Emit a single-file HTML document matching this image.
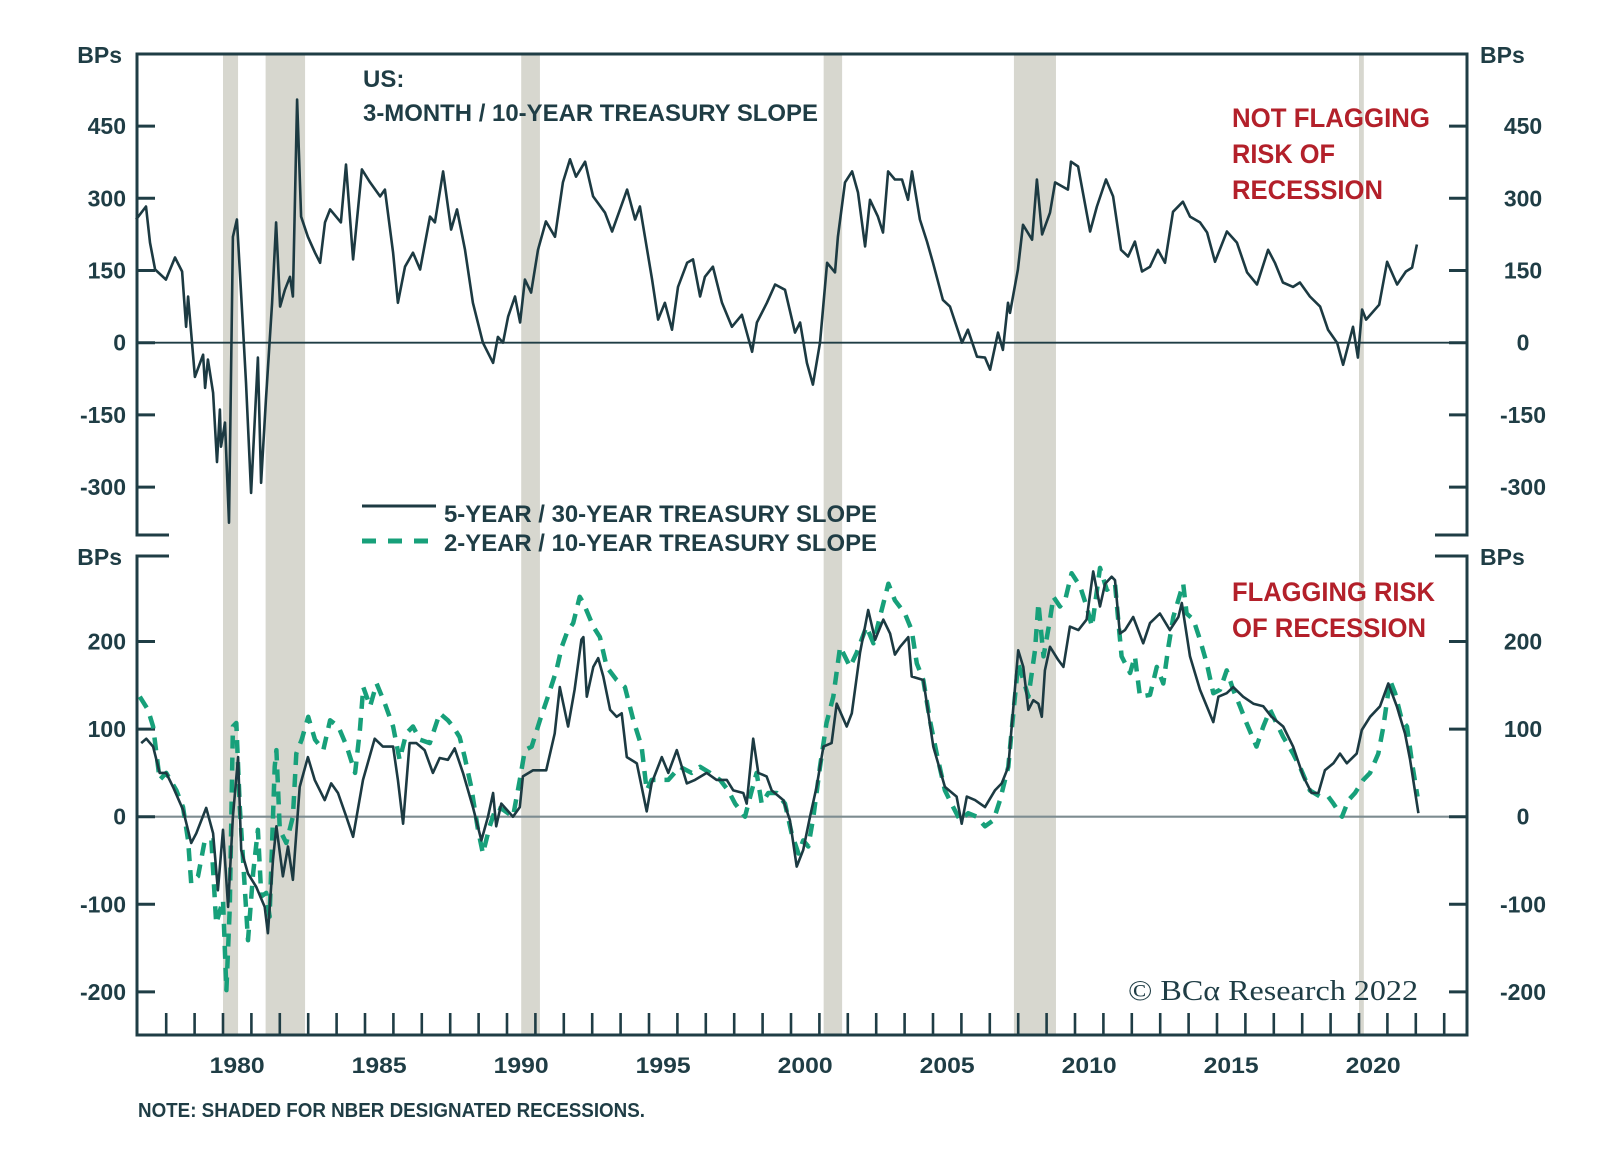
<!DOCTYPE html>
<html>
<head>
<meta charset="utf-8">
<style>
  html,body{margin:0;padding:0;background:#ffffff;}
  svg{display:block;}
  text{font-family:"Liberation Sans",sans-serif;}
</style>
</head>
<body>
<svg id="chart" xmlns="http://www.w3.org/2000/svg" width="1600" height="1154" viewBox="0 0 1600 1154">
  <rect x="0" y="0" width="1600" height="1154" fill="#ffffff"/>
  <g id="recessions"></g>
  <g id="frames"></g>
  <g id="series"></g>
  <g id="labels"></g>

  <text x="363" y="87" font-size="24" font-weight="bold" fill="#1f3d45">US:</text>
  <text x="363" y="121" font-size="24" font-weight="bold" fill="#1f3d45" textLength="455" lengthAdjust="spacingAndGlyphs">3-MONTH / 10-YEAR TREASURY SLOPE</text>

  <text x="1232" y="127" font-size="27" font-weight="bold" fill="#b3202a" textLength="198" lengthAdjust="spacingAndGlyphs">NOT FLAGGING</text>
  <text x="1232" y="163" font-size="27" font-weight="bold" fill="#b3202a" textLength="103" lengthAdjust="spacingAndGlyphs">RISK OF</text>
  <text x="1232" y="199" font-size="27" font-weight="bold" fill="#b3202a" textLength="151" lengthAdjust="spacingAndGlyphs">RECESSION</text>

  <text x="1232" y="601" font-size="27" font-weight="bold" fill="#b3202a" textLength="203" lengthAdjust="spacingAndGlyphs">FLAGGING RISK</text>
  <text x="1232" y="637" font-size="27" font-weight="bold" fill="#b3202a" textLength="194" lengthAdjust="spacingAndGlyphs">OF RECESSION</text>

  <g>
    <line x1="362" y1="506" x2="436" y2="506" stroke="#1c3a42" stroke-width="3"/>
    <text x="444" y="522" font-size="24" font-weight="bold" fill="#1f3d45" textLength="433" lengthAdjust="spacingAndGlyphs">5-YEAR / 30-YEAR TREASURY SLOPE</text>
    <line x1="362" y1="541" x2="436" y2="541" stroke="#17a07a" stroke-width="5" stroke-dasharray="14 12"/>
    <text x="444" y="551" font-size="24" font-weight="bold" fill="#1f3d45" textLength="433" lengthAdjust="spacingAndGlyphs">2-YEAR / 10-YEAR TREASURY SLOPE</text>
  </g>

  <text x="1128" y="1000" font-size="29" fill="#1f3d45" font-family="Liberation Serif, serif" style="font-family:'Liberation Serif',serif" textLength="290" lengthAdjust="spacingAndGlyphs">© BCα Research 2022</text>
  <text x="138" y="1117" font-size="20" font-weight="bold" fill="#1f3d45" textLength="507" lengthAdjust="spacingAndGlyphs">NOTE: SHADED FOR NBER DESIGNATED RECESSIONS.</text>
</svg>

<script>
// ---------- data ----------
const recessionStarts = [1980.0, 1981.5, 1990.5, 2001.15, 2007.85, 2020.0];
const recessionEnds   = [1980.53, 1982.89, 1991.16, 2001.8, 2009.33, 2020.17];

const topTicks = [450, 300, 150, 0, -150, -300];
const bottomTicks = [200, 100, 0, -100, -200];
const yearLabels = [1980, 1985, 1990, 1995, 2000, 2005, 2010, 2015, 2020];

const topDates = [1976.94,1977.29,1977.43,1977.61,1977.99,1978.31,1978.56,1978.70,1978.77,1979.01,1979.30,1979.37,1979.47,1979.65,1979.79,1979.89,1979.93,1980.07,1980.21,1980.35,1980.49,1980.63,1980.81,1980.99,1981.23,1981.34,1981.51,1981.73,1981.87,1982.01,1982.18,1982.36,1982.46,1982.61,1982.75,1982.99,1983.24,1983.42,1983.59,1983.77,1984.15,1984.33,1984.58,1984.89,1985.18,1985.53,1985.70,1985.99,1986.16,1986.41,1986.69,1986.94,1987.29,1987.46,1987.75,1988.03,1988.24,1988.52,1988.80,1989.15,1989.51,1989.68,1989.86,1990.04,1990.28,1990.46,1990.63,1990.85,1991.09,1991.37,1991.69,1991.97,1992.22,1992.43,1992.75,1993.03,1993.45,1993.70,1993.98,1994.23,1994.51,1994.68,1995.11,1995.32,1995.56,1995.81,1996.02,1996.34,1996.55,1996.80,1996.97,1997.25,1997.57,1997.92,1998.27,1998.63,1998.80,1999.15,1999.44,1999.79,2000.14,2000.32,2000.56,2000.77,2001.02,2001.27,2001.55,2001.65,2001.90,2002.15,2002.36,2002.61,2002.78,2003.06,2003.24,2003.42,2003.66,2003.91,2004.12,2004.26,2004.54,2004.79,2005.00,2005.35,2005.60,2006.02,2006.23,2006.55,2006.83,2007.01,2007.29,2007.46,2007.64,2007.71,2007.99,2008.17,2008.49,2008.66,2008.84,2009.12,2009.30,2009.75,2009.86,2010.11,2010.53,2010.77,2011.09,2011.34,2011.62,2011.87,2012.11,2012.36,2012.64,2012.92,2013.17,2013.45,2013.80,2014.05,2014.40,2014.65,2014.93,2015.35,2015.70,2016.06,2016.41,2016.80,2017.04,2017.32,2017.68,2017.92,2018.27,2018.63,2018.91,2019.23,2019.44,2019.79,2019.96,2020.11,2020.25,2020.71,2020.99,2021.34,2021.65,2021.87,2022.04];
const topValues = [256,283,208,152,131,177,148,33,96,-71,-25,-94,-35,-104,-248,-139,-216,-166,-374,220,256,110,-83,-312,-31,-291,-119,83,250,75,110,137,96,505,262,220,187,166,250,277,250,370,173,360,333,304,318,187,83,158,187,152,262,250,356,235,277,193,83,0,-42,12,0,54,96,42,131,104,193,252,220,333,381,345,376,304,270,231,277,318,256,283,131,48,83,27,116,166,173,96,137,158,83,33,58,-19,42,83,121,110,21,42,-42,-87,0,166,146,220,333,356,312,200,297,262,229,356,339,339,297,356,256,210,166,89,75,0,27,-29,-31,-56,21,-15,83,62,152,245,214,339,225,270,333,318,376,366,231,283,339,304,193,179,210,148,158,193,166,272,293,262,250,229,168,231,208,146,121,193,166,125,116,125,96,75,27,0,-46,33,-31,69,48,79,168,121,148,156,204];

const fiveThirtyDates = [1977.12,1977.30,1977.54,1977.77,1978.0,1978.24,1978.59,1978.88,1979.06,1979.41,1979.65,1979.82,1980.0,1980.18,1980.35,1980.53,1980.64,1980.88,1981.17,1981.47,1981.58,1981.76,1981.88,1982.11,1982.29,1982.46,1982.70,1982.99,1983.23,1983.58,1983.81,1984.05,1984.34,1984.58,1984.93,1985.34,1985.63,1985.99,1986.16,1986.34,1986.57,1986.81,1987.10,1987.39,1987.63,1987.92,1988.16,1988.45,1988.80,1989.10,1989.33,1989.51,1989.62,1989.80,1990.21,1990.45,1990.56,1990.92,1991.38,1991.68,1991.86,1992.15,1992.38,1992.62,1992.69,1992.81,1993.04,1993.21,1993.39,1993.63,1993.86,1994.04,1994.22,1994.57,1994.92,1995.09,1995.45,1995.68,1995.98,1996.33,1996.62,1997.03,1997.38,1997.74,1997.97,1998.32,1998.44,1998.67,1998.85,1999.14,1999.32,1999.73,1999.96,2000.20,2000.43,2000.67,2000.90,2001.14,2001.43,2001.61,2001.96,2002.14,2002.43,2002.72,2002.96,2003.25,2003.49,2003.66,2003.84,2004.13,2004.25,2004.66,2005.01,2005.42,2005.83,2006.01,2006.19,2006.48,2006.83,2007.18,2007.42,2007.65,2007.77,2008.00,2008.18,2008.36,2008.53,2008.71,2008.83,2008.94,2009.12,2009.41,2009.59,2009.82,2010.12,2010.41,2010.64,2010.88,2011.06,2011.29,2011.41,2011.58,2011.76,2012.05,2012.40,2012.64,2012.99,2013.34,2013.64,2013.76,2014.05,2014.40,2014.87,2015.05,2015.34,2015.57,2015.92,2016.28,2016.63,2016.92,2017.33,2017.68,2018.04,2018.33,2018.57,2018.80,2019.10,2019.33,2019.57,2019.92,2020.10,2020.39,2020.74,2021.03,2021.33,2021.62,2021.80,2022.09];
const fiveThirtyValues = [84,89,80,50,50,34,8,-30,-19,10,-19,-84,-15,-103,0,68,-38,-65,-80,-103,-133,-49,-11,-68,-34,-72,34,68,42,19,38,27,0,-23,42,89,80,80,42,-8,84,84,76,50,67,65,78,50,11,-27,0,27,-11,15,0,11,46,53,53,95,148,103,145,202,205,137,171,181,160,122,114,118,68,61,6,38,68,50,76,38,42,50,42,42,30,27,15,89,50,46,30,19,-4,-57,-38,0,34,80,84,129,103,118,187,236,202,225,209,185,194,205,160,156,80,34,23,-8,23,19,11,30,38,57,103,190,171,122,133,129,114,167,194,179,171,217,213,225,280,240,266,274,270,209,213,228,198,221,232,213,228,244,183,145,108,137,141,148,137,129,126,114,103,80,46,27,27,53,61,72,61,72,99,114,126,152,126,95,65,4];

const twoTenDates = [1977.07,1977.36,1977.54,1977.77,1978.0,1978.36,1978.59,1978.77,1978.88,1979.12,1979.36,1979.59,1979.76,1980.0,1980.12,1980.24,1980.35,1980.47,1980.59,1980.88,1981.06,1981.23,1981.35,1981.52,1981.64,1981.82,1981.88,1982.0,1982.23,1982.46,1982.58,1982.77,1983.00,1983.24,1983.53,1983.77,1984.06,1984.36,1984.65,1984.82,1984.94,1985.18,1985.41,1985.70,1985.99,1986.22,1986.45,1986.69,1986.93,1987.28,1987.63,1987.92,1988.10,1988.33,1988.51,1988.74,1988.98,1989.15,1989.39,1989.62,1989.86,1990.21,1990.45,1990.63,1990.87,1991.16,1991.44,1991.74,1991.93,1992.10,1992.33,1992.56,1992.69,1993.04,1993.27,1993.51,1993.86,1994.15,1994.45,1994.74,1994.92,1995.09,1995.45,1995.68,1996.09,1996.50,1996.80,1997.15,1997.50,1997.79,1998.03,1998.38,1998.62,1998.79,1998.97,1999.20,1999.50,1999.79,2000.02,2000.26,2000.43,2000.61,2000.79,2001.02,2001.25,2001.49,2001.73,2002.08,2002.31,2002.66,2002.90,2003.13,2003.43,2003.66,2004.01,2004.25,2004.43,2004.66,2004.89,2005.13,2005.42,2005.71,2005.95,2006.24,2006.54,2006.83,2007.13,2007.36,2007.65,2007.77,2008.00,2008.18,2008.36,2008.59,2008.71,2008.89,2009.12,2009.24,2009.47,2009.65,2009.88,2010.18,2010.41,2010.60,2010.88,2011.12,2011.41,2011.53,2011.64,2011.94,2012.11,2012.29,2012.64,2012.88,2013.11,2013.29,2013.46,2013.81,2013.93,2014.17,2014.40,2014.64,2014.87,2015.11,2015.34,2015.57,2015.81,2016.04,2016.39,2016.63,2016.87,2017.09,2017.33,2017.68,2017.92,2018.27,2018.63,2018.92,2019.10,2019.40,2019.63,2019.86,2020.15,2020.39,2020.68,2020.86,2021.09,2021.27,2021.51,2021.69,2021.87,2022.06];
const twoTenValues = [137,122,103,42,50,30,11,-27,-76,-68,-27,-27,-122,-95,-198,-103,103,107,11,-141,-65,-15,-91,-87,-114,57,76,-15,-30,0,72,88,114,88,76,110,103,80,50,99,148,126,152,129,103,65,95,103,88,84,118,110,103,91,68,34,-15,-42,-11,11,8,0,42,76,80,110,137,167,194,209,221,251,244,217,205,171,156,148,110,80,30,42,42,42,57,50,57,50,42,30,15,0,30,50,15,27,27,15,-19,-42,-27,-34,0,57,107,137,194,171,187,217,198,228,266,247,232,213,175,156,110,72,30,11,-4,4,0,-11,-4,19,57,99,175,156,137,190,244,183,225,251,240,247,278,263,240,217,284,259,266,221,183,164,183,137,139,171,152,194,228,266,232,225,202,175,141,145,167,145,126,107,80,103,122,107,91,72,57,30,23,23,15,0,19,27,42,50,72,103,156,141,110,103,61,23];

// ---------- layout / scales ----------
const L = 137, R = 1467;
const topT = 54, topB = 535, botT = 556, botB = 1035;
const FRAME = "#1f3d45";
function xScale(yr){ return 223 + (yr - 1980) * 28.4; }
function yTop(v){ return 342.7 - v * 0.4813; }
function yBot(v){ return 816.7 - v * 0.876; }

const NS = "http://www.w3.org/2000/svg";
function mk(tag, attrs, parent){
  const el = document.createElementNS(NS, tag);
  for (const k in attrs) el.setAttribute(k, attrs[k]);
  parent.appendChild(el);
  return el;
}
const gRec = document.getElementById('recessions');
const gFr = document.getElementById('frames');
const gSer = document.getElementById('series');
const gLab = document.getElementById('labels');

// recession shading
for (let i = 0; i < recessionStarts.length; i++){
  const x0 = xScale(recessionStarts[i]), x1 = xScale(recessionEnds[i]);
  const r = mk('rect', {x:x0, y:topT, width:Math.max(4, x1-x0), height:botB-topT, fill:'#d7d7cf'}, gRec);
  
  
}

// frames
function line(x1,y1,x2,y2,name,w,color,parent){
  const l = mk('line', {x1:x1,y1:y1,x2:x2,y2:y2,stroke:color||FRAME,'stroke-width':w||3}, parent||gFr);
  
  
  return l;
}
line(L, topT, R, topT, 'top-panel-top-border');
line(L, topT-1.5, L, topB+1.5, 'top-panel-left-axis');
line(R, topT-1.5, R, topB+1.5, 'top-panel-right-axis');
line(L-1.5, topB, L+32, topB, 'top-panel-bottom-left-stub');
line(R-32, topB, R+1.5, topB, 'top-panel-bottom-right-stub');
line(L-1.5, botT, L+32, botT, 'bottom-panel-top-left-stub');
line(R-32, botT, R+1.5, botT, 'bottom-panel-top-right-stub');
line(L, botT-1.5, L, botB+1.5, 'bottom-panel-left-axis');
line(R, botT-1.5, R, botB+1.5, 'bottom-panel-right-axis');
line(L, botB, R, botB, 'x-axis-line');

// zero lines
line(L, yTop(0), R, yTop(0), 'top-zero-line', 1.8, '#1f3d45');
line(L, yBot(0), R, yBot(0), 'bottom-zero-line', 2.2, '#7d8c90');

function txt(x, y, s, anchor, size, name){
  const t = mk('text', {x:x, y:y, 'text-anchor':anchor, 'font-size':size, 'font-weight':'bold', fill:FRAME}, gLab);
  t.textContent = s;
  
  
  return t;
}

// y ticks and labels
topTicks.forEach(v => {
  const y = yTop(v);
  line(L, y, L+18, y, 'top-left-tick');
  line(R-18, y, R, y, 'top-right-tick');
  txt(126, y+8, String(v), 'end', 23, 'top-left-tick-label');
  txt(1523, y+8, String(v), 'middle', 23, 'top-right-tick-label');
});
bottomTicks.forEach(v => {
  const y = yBot(v);
  line(L, y, L+18, y, 'bottom-left-tick');
  line(R-18, y, R, y, 'bottom-right-tick');
  txt(126, y+8, String(v), 'end', 23, 'bottom-left-tick-label');
  txt(1523, y+8, String(v), 'middle', 23, 'bottom-right-tick-label');
});
txt(122, 63, 'BPs', 'end', 23, 'top-left-unit');
txt(1480, 63, 'BPs', 'start', 23, 'top-right-unit');
txt(122, 565, 'BPs', 'end', 23, 'bottom-left-unit');
txt(1480, 565, 'BPs', 'start', 23, 'bottom-right-unit');

// x ticks (year starts)
for (let yr = 1978; yr <= 2023; yr++){
  const x = xScale(yr);
  line(x, botB-22, x, botB, 'x-tick', 2.6);
}
yearLabels.forEach(yr => {
  const t = txt(xScale(yr + 0.5), 1073, String(yr), 'middle', 22, 'x-tick-label');
  t.setAttribute('textLength', '55');
  t.setAttribute('lengthAdjust', 'spacingAndGlyphs');
});

// series
function pathFrom(dates, vals, yFn){
  let d = '';
  const n = Math.min(dates.length, vals.length);
  for (let i = 0; i < n; i++){
    d += (i ? 'L' : 'M') + xScale(dates[i]).toFixed(1) + ',' + yFn(vals[i]).toFixed(1);
  }
  return d;
}
const p1 = mk('path', {d:pathFrom(topDates, topValues, yTop), fill:'none', stroke:'#1c3a42', 'stroke-width':2.6, 'stroke-linejoin':'round'}, gSer);



const p3 = mk('path', {d:pathFrom(twoTenDates, twoTenValues, yBot), fill:'none', stroke:'#17a07a', 'stroke-width':4.5, 'stroke-dasharray':'13 9', 'stroke-linejoin':'round'}, gSer);



const p2 = mk('path', {d:pathFrom(fiveThirtyDates, fiveThirtyValues, yBot), fill:'none', stroke:'#1c3a42', 'stroke-width':2.6, 'stroke-linejoin':'round'}, gSer);


</script>
</body>
</html>
